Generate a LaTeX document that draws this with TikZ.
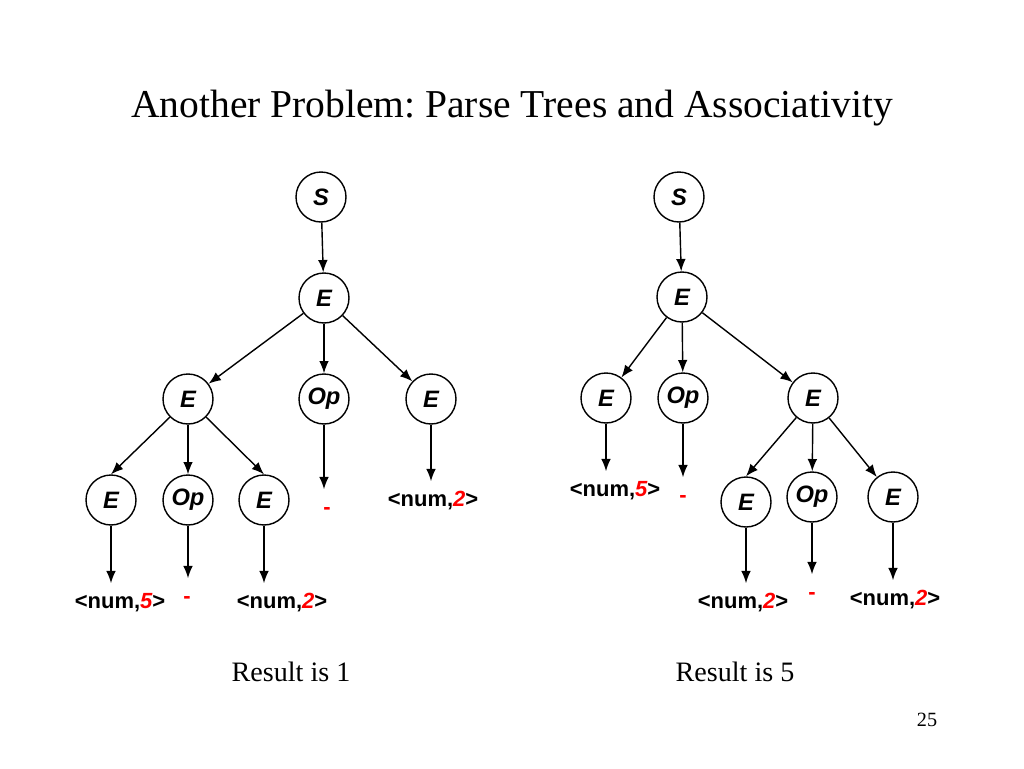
\documentclass[tikz,border=0pt]{standalone}
\usepackage{fontspec}
\setmainfont{Liberation Serif}
\setsansfont{Liberation Sans}
\usetikzlibrary{arrows.meta,calc,positioning}
\frenchspacing

% token leaf <num,k>
\newcommand{\numtok}[1]{<num,{\color{red}\itshape #1}>}

\begin{document}
\begin{tikzpicture}[x=0.02cm,y=-0.02cm,
  sym/.style={draw, circle, line width=0.8pt, minimum size=1cm, inner sep=0pt,
              font=\sffamily\bfseries\itshape\fontsize{13.5}{16}\selectfont},
  leaf/.style={anchor=base, inner xsep=0pt, inner ysep=4.5pt, text height=9.4pt,
               font=\sffamily\bfseries\fontsize{12.5}{15}\selectfont},
  arr/.style={line width=0.8pt, -{Latex[length=7pt,width=5.5pt]}}]
  % Page
  \fill[white] (0,0) rectangle (1024,768);
  \useasboundingbox (0,0) rectangle (1024,768);

  % Title
  \node[anchor=base, font=\fontsize{22.5}{27}\selectfont] (title) at (512,117)
    {Another Problem: Parse Trees and Associativity};

  % Left tree
  \node[sym] (LS)   at (321,197) {S};
  \node[sym] (LE)   at (324,298) {E};
  \node[sym] (LE1)  at (188,399) {E};
  \node[sym] (LOp)  at (324,399) {Op};
  \node[sym] (LE2)  at (431,399) {E};
  \node[sym] (LE11) at (111,500) {E};
  \node[sym] (LOp1) at (188,500) {Op};
  \node[sym] (LE12) at (264,500) {E};

  % Left leaves
  \node[leaf]           (Ln1) at (120,608) {\numtok{5}};
  \node[leaf, text=red] (Lm1) at (187,603) {-};
  \node[leaf]           (Ln2) at (282,608) {\numtok{2}};
  \node[leaf, text=red] (Lm)  at (327,514) {-};
  \node[leaf]           (Ln3) at (433,506) {\numtok{2}};

  % Right tree
  \node[sym] (RS)   at (679,197) {S};
  \node[sym] (RE)   at (682,297) {E};
  \node[sym] (RE1)  at (606,398) {E};
  \node[sym] (ROp)  at (683,398) {Op};
  \node[sym] (RE2)  at (813,398) {E};
  \node[sym] (RE21) at (746,502) {E};
  \node[sym] (ROp2) at (812,497) {Op};
  \node[sym] (RE23) at (893,497) {E};

  % Right leaves
  \node[leaf]           (Rn1) at (615,496) {\numtok{5}};
  \node[leaf, text=red] (Rm)  at (683,502) {-};
  \node[leaf]           (Rn2) at (743,608) {\numtok{2}};
  \node[leaf, text=red] (Rm2) at (812,599) {-};
  \node[leaf]           (Rn3) at (895,605) {\numtok{2}};

  % Draw edges
  \draw[arr] (LS) -- (LE);
  \foreach \c in {LE1, LOp, LE2}
      \draw[arr] (LE) -- (\c);
  \draw[arr] (LE1.south west) -- (LE11.north);
  \draw[arr] (LE1) -- (LOp1);
  \draw[arr] (LE1.south east) -- (LE12.north);

  \draw[arr] (RS) -- (RE);
  \foreach \c in {RE1, ROp, RE2}
      \draw[arr] (RE) -- (\c);
  \draw[arr] (RE2) -- (RE21.north);
  \draw[arr] (RE2) -- (ROp2);
  \draw[arr] (RE2) -- (RE23);

  % Edges down to the tokens
  \foreach \a/\b in {LE11/Ln1, LOp1/Lm1, LE12/Ln2, LOp/Lm, LE2/Ln3,
                     RE1/Rn1, ROp/Rm, RE21/Rn2, ROp2/Rm2, RE23/Rn3}
      \draw[arr] (\a) -- (\a |- \b.north);

  % Results
  \node[anchor=base, font=\fontsize{16}{19}\selectfont] (res1) at (291,681) {Result is 1};
  \node[anchor=base, font=\fontsize{16}{19}\selectfont] (res2) at (735,681) {Result is 5};
  \node[anchor=base, font=\fontsize{11.5}{14}\selectfont] (page) at (927,726) {25};
\end{tikzpicture}
\end{document}
